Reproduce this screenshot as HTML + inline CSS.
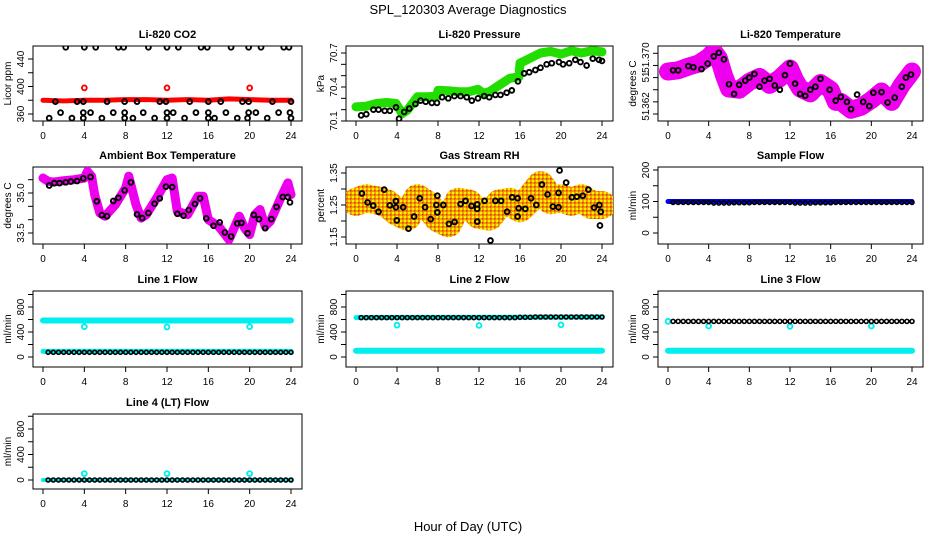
<!DOCTYPE html>
<html><head><meta charset="utf-8">
<style>
html,body{margin:0;padding:0;background:#fff;}
svg{display:block;font-family:"Liberation Sans",sans-serif;}
</style></head>
<body>
<svg id="chart" width="936" height="540" viewBox="0 0 936 540" xmlns="http://www.w3.org/2000/svg">
<defs>
<pattern id="rhpat" width="4" height="4" patternUnits="userSpaceOnUse">
<rect width="4" height="4" fill="#f0a000"/><rect width="2" height="2" fill="#ffee00"/><rect x="2" y="2" width="1.5" height="1.5" fill="#e03000"/>
</pattern>
</defs>
<text x="468" y="14" font-size="13" text-anchor="middle">SPL_120303  Average Diagnostics</text>
<text x="468" y="531" font-size="13" text-anchor="middle">Hour of Day (UTC)</text>
</svg>
<script>
// ---------- data ----------
const xTicks = [0,4,8,12,16,20,24];
const halfHours = [0.5,1,1.5,2,2.5,3,3.5,4,4.5,5,5.5,6,6.5,7,7.5,8,8.5,9,9.5,10,10.5,11,11.5,12,12.5,13,13.5,14,14.5,15,15.5,16,16.5,17,17.5,18,18.5,19,19.5,20,20.5,21,21.5,22,22.5,23,23.5,24];

// CO2
const co2BandHours = [0,2,4,6,8,10,12,14,16,18,20,22,24];
const co2BandVals = [380,379,380,380,381,381,380,381,380,382,381,380,380];
const co2RedHours = [4,12,20];
const co2RedVals = [398,398,398];
const co2BlkHours = [2.2,4.0,5.1,7.3,7.8,10.2,12.0,13.1,15.3,15.9,18.2,19.9,21.1,23.3,23.8,
 1.2,3.3,3.9,6.2,7.9,9.1,11.3,11.9,14.2,16.0,17.2,19.3,19.9,22.2,24.0,
 1.7,3.9,4.6,6.8,7.9,9.7,12.0,12.6,14.8,16.0,17.7,19.9,20.6,22.8,23.9,
 0.6,2.8,3.9,5.7,7.9,8.7,10.8,12.0,13.7,16.0,16.6,18.8,19.8,21.7,24.0];
const co2BlkVals = [457,457,457,457,457,457,457,457,457,457,457,457,457,457,457,
 378,378,378,378,378,378,378,378,378,378,378,378,378,378,378,
 362,362,362,362,362,362,362,362,362,362,362,362,362,362,362,
 354,354,354,354,354,354,354,354,354,354,354,354,354,354,354];

// Pressure
const presHours = [0,1,2,3,3.9,4.5,5,6,7,7.9,8,9,10,11,11.9,12.4,13,14,15,15.9,16,17,18,19,20,21,22,23,24];
const presVals = [70.225,70.23,70.255,70.263,70.255,70.165,70.195,70.314,70.314,70.32,70.37,70.367,70.358,70.358,70.38,70.345,70.358,70.418,70.477,70.49,70.61,70.655,70.70,70.714,70.69,70.72,70.70,70.72,70.71];
const presBlkHours = [0.5,1,1.7,2.2,2.8,3.3,3.9,4.2,4.7,5.2,5.8,6.3,6.8,7.4,7.9,8.4,9,9.6,10.2,10.8,11.3,11.9,12.5,13,13.6,14.1,14.7,15.2,15.8,16.4,16.9,17.5,18,18.6,19.1,19.8,20.2,20.8,21.4,21.9,22.5,23.1,23.7,24];
const presBlkVals = [70.15,70.16,70.2,70.2,70.19,70.19,70.22,70.12,70.18,70.21,70.25,70.28,70.27,70.26,70.26,70.31,70.3,70.32,70.32,70.31,70.28,70.3,70.32,70.31,70.33,70.33,70.35,70.37,70.45,70.52,70.53,70.55,70.57,70.6,70.61,70.62,70.6,70.61,70.64,70.62,70.59,70.65,70.64,70.63];

// Li-820 temperature
const ltHours = [0,1,2,3,4,4.5,5,5.5,6,7,8,9,10,11,12,12.5,13,14,15,16,16.5,17,18,19,20,21,22,23,24];
const ltVals = [51.367,51.3672,51.3678,51.3683,51.3694,51.3703,51.3692,51.3664,51.3642,51.364,51.3653,51.3661,51.3648,51.3659,51.3675,51.3656,51.3642,51.3634,51.3651,51.364,51.362,51.362,51.3607,51.3612,51.3623,51.3637,51.362,51.3648,51.367];
const ltBlkHours = [0.5,1,2,2.5,3.3,3.9,4.5,5,5.5,6,6.5,7,7.6,8,8.5,9,9.5,10,10.5,11,11.5,12,12.5,13,13.5,14,14.5,15,15.9,16.5,17,17.6,18,18.6,19.2,19.8,20.2,21,21.6,22.3,23,23.4,23.9];
const ltBlkVals = [51.3672,51.3672,51.3679,51.3677,51.3674,51.3683,51.3695,51.3701,51.3690,51.3649,51.3633,51.3648,51.3655,51.3660,51.3666,51.3645,51.3655,51.3658,51.3647,51.3640,51.3664,51.3683,51.3650,51.3633,51.3630,51.3640,51.3645,51.3658,51.3640,51.3622,51.3628,51.3620,51.3608,51.3632,51.3620,51.3613,51.3635,51.3636,51.3619,51.3627,51.3645,51.3660,51.3665];

// Ambient box temperature
const abHours = [0,0.5,1,2,3,4,4.3,4.7,5,5.5,6,7,8,8.3,9,9.5,10,11,12,12.5,13,14,15,15.5,16,17,17.5,18,18.5,19,19.5,20,20.5,21,21.5,22,23,23.7,24];
const abVals = [35.56,35.44,35.41,35.46,35.5,35.56,35.81,35.63,34.94,34.25,34.13,34.56,35.19,35.63,34.56,34.06,34.19,34.81,35.5,35.56,34.31,34.19,34.88,34.88,34.0,33.75,33.5,33.25,33.69,34.13,33.69,33.44,34.19,34.38,33.75,33.94,34.81,35.38,34.94];
const abBlkHours = [0.6,1.1,1.6,2.2,2.7,3.3,3.9,4.6,5.2,5.7,6.2,6.8,7.3,7.9,8.5,9.1,9.6,10.2,10.8,11.3,11.9,12.5,13,13.6,14.1,14.7,15.2,15.8,16.5,17.1,17.6,18.2,18.8,19.2,19.8,20.4,20.9,21.5,22.1,22.6,23.2,23.7,23.9];
const abBlkVals = [35.28,35.37,35.37,35.4,35.43,35.45,35.55,35.6,34.69,34.17,34.13,34.7,34.82,35.1,35.4,34.2,34.06,34.25,34.6,34.8,35.24,35.22,34.22,34.15,34.36,34.59,34.8,34.05,33.77,33.9,33.52,33.37,33.86,33.88,33.49,34.18,34.02,33.68,34.02,34.48,34.85,34.85,34.65];

// Gas stream RH
const rhHours = [0,1,2,3,4,5,6,7,8,9,10,11,12,13,14,15,16,17,18,19,20,21,22,23,24];
const rhVals = [1.26,1.271,1.265,1.255,1.229,1.214,1.271,1.25,1.209,1.193,1.26,1.255,1.219,1.214,1.255,1.26,1.24,1.271,1.312,1.265,1.271,1.26,1.271,1.25,1.25];
const rhBlkHours = [0.58,1.13,1.68,2.2,2.75,3.3,3.89,3.89,3.98,4.6,5.12,5.67,6.22,6.74,7.29,7.84,7.94,7.94,8.52,9.07,9.62,10.2,10.69,11.27,11.83,11.83,11.83,12.54,13.12,13.6,14.16,14.74,15.23,15.77,15.77,15.87,16.52,17.07,17.59,18.14,18.69,19.21,19.76,19.86,19.76,20.5,21.06,21.54,22.13,22.67,23.23,23.74,23.8,23.87];
const rhBlkVals = [1.286,1.258,1.248,1.229,1.298,1.249,1.262,1.243,1.202,1.243,1.176,1.214,1.271,1.243,1.206,1.25,1.279,1.227,1.25,1.191,1.197,1.253,1.263,1.247,1.238,1.198,1.252,1.263,1.139,1.263,1.263,1.229,1.274,1.271,1.214,1.24,1.238,1.271,1.25,1.314,1.283,1.245,1.243,1.358,1.288,1.32,1.274,1.276,1.279,1.298,1.242,1.25,1.186,1.229];

// Flows
const bandHours = [0,24];
const dipHours = [4,12,20];
const sampleBand = [100,100];
const sampleBlk = [97,97,97,97,97,97,97,97,95,95,95,95,96,96,96,96,97,97,97,97,97,97,97,97,95,95,95,95,96,96,96,96,97,97,97,97,97,97,97,97,97,97,97,97,97,97,97,97];
const line1Upper = [585,585];
const line1Dips = [485,480,485];
const line1Lower = [90,90];
const line1Blk = [75,75,75,75,75,75,75,75,75,75,75,75,75,75,75,75,75,75,75,75,75,75,75,75,75,75,75,75,75,75,75,75,75,75,75,75,75,75,75,75,75,75,75,75,75,75,75,75];
const line2Lower = [100,100];
const line2Dips = [510,505,515];
const line2Blk = [630,630,630,630,630,630,630,630,630,630,630,630,630,630,630,630,630,630,630,630,630,630,630,630,630,630,630,630,630,630,630,635,635,635,640,640,640,640,640,640,640,640,640,640,640,640,640,640];
const line3Lower = [100,100];
const line3Dips = [495,490,495];
const line3Blk = [570,570,570,570,570,570,570,570,570,570,570,570,570,570,570,570,570,570,570,570,570,570,570,570,570,570,570,570,570,570,570,570,570,570,570,570,570,570,570,570,570,570,570,570,570,570,570,570];
const line4Dips = [100,100,100];
const line4Blk = [0,0,0,0,0,0,0,0,0,0,0,0,0,0,0,0,0,0,0,0,0,0,0,0,0,0,0,0,0,0,0,0,0,0,0,0,0,0,0,0,0,0,0,0,0,0,0,0];

// ---------- drawing ----------
const NS = "http://www.w3.org/2000/svg";
const svg = document.getElementById("chart");
function el(tag, attrs, parent){
  const e = document.createElementNS(NS, tag);
  for (const k in attrs) e.setAttribute(k, attrs[k]);
  (parent||svg).appendChild(e);
  return e;
}
const cols = [[33,302],[346,613],[658,923]];
const rows = [[46,121],[167,244],[291,367],[414,489]];

function makePanel(name, title, col, row, yv0, yp0, yv1, yp1, yTicks, yLabels, ylab){
  const [L,R] = cols[col], [T,B] = rows[row];
  const g = el("g", {});
  
  
  const clip = el("clipPath", {id: name+"-clip"}, g);
  el("rect", {x:L, y:T, width:R-L, height:B-T}, clip);
  const xs = h => (L+10) + h*((R-11)-(L+10))/24;
  const ys = v => yp0 + (v-yv0)*(yp1-yp0)/(yv1-yv0);
  const t = el("text", {x:(L+R)/2, y:T-8, "font-size":11, "font-weight":"bold", "text-anchor":"middle"}, g);
  t.textContent = title;
  
  
  const box = el("rect", {x:L, y:T, width:R-L, height:B-T, fill:"none", stroke:"#000", "stroke-width":1}, g);
  
  
  xTicks.forEach(h => {
    el("line", {x1:xs(h), x2:xs(h), y1:B, y2:B+5, stroke:"#000"}, g);
    const tx = el("text", {x:xs(h), y:B+18, "font-size":10, "text-anchor":"middle"}, g);
    tx.textContent = h;
    
    
  });
  yTicks.forEach(v => el("line", {x1:L-5, x2:L, y1:ys(v), y2:ys(v), stroke:"#000"}, g));
  yLabels.forEach(([v,s]) => {
    const ty = el("text", {x:0, y:0, "font-size":10, "text-anchor":"middle", transform:`translate(${L-9},${ys(v)}) rotate(-90)`}, g);
    ty.textContent = s;
    
    
  });
  const yl = el("text", {x:0, y:0, "font-size":10, "text-anchor":"middle", transform:`translate(${L-22},${(T+B)/2}) rotate(-90)`}, g);
  yl.textContent = ylab;
  
  
  const data = el("g", {"clip-path":`url(#${name}-clip)`}, g);
  
  
  return {xs, ys, g:data};
}
function band(p, hs, vs, color, w){
  const pts = hs.map((h,i)=>p.xs(h)+","+p.ys(vs[i])).join(" ");
  const e = el("polyline", {points:pts, fill:"none", stroke:color, "stroke-width":w, "stroke-linejoin":"round", "stroke-linecap":"round"}, p.g);
  
  
}
function pts(p, hs, vs, color, r, sw){
  hs.forEach((h,i)=>{
    const c = el("circle", {cx:p.xs(h), cy:p.ys(vs[i]), r:r||2.4, fill:"none", stroke:color, "stroke-width":sw||1.9}, p.g);
    
    
  });
}

// CO2
let p = makePanel("co2","Li-820 CO2",0,0,360,114,440,59,[360,380,400,420,440],[[360,"360"],[400,"400"],[440,"440"]],"Licor ppm");
band(p, co2BandHours, co2BandVals, "#ff0000", 5);
pts(p, co2RedHours, co2RedVals, "#ff0000");
pts(p, co2BlkHours, co2BlkVals, "#000");

// Pressure
p = makePanel("pressure","Li-820 Pressure",1,0,70.1,121,70.7,53,[70.1,70.2,70.3,70.4,70.5,70.6,70.7],[[70.1,"70.1"],[70.4,"70.4"],[70.7,"70.7"]],"kPa");
band(p, presHours, presVals, "#22dd00", 9);
pts(p, presBlkHours, presBlkVals, "#000");

// Li-820 temperature
p = makePanel("licor-temp","Li-820 Temperature",2,0,51.360,114,51.370,53.3,[51.360,51.362,51.364,51.366,51.368,51.370],[[51.3693,"51.370"],[51.3661,"51"],[51.362,".362"],[51.3598,"51"]],"degrees C");
band(p, ltHours, ltVals, "#ee00ee", 18);
pts(p, ltBlkHours, ltBlkVals, "#000");

// Ambient
p = makePanel("ambient-temp","Ambient Box Temperature",0,1,35.0,193,33.5,233,[33.5,34,34.5,35,35.5],[[33.5,"33.5"],[35.0,"35.0"]],"degrees C");
band(p, abHours, abVals, "#ee00ee", 9);
pts(p, abBlkHours, abBlkVals, "#000");

// RH
p = makePanel("gas-rh","Gas Stream RH",1,1,1.15,237,1.35,173,[1.15,1.2,1.25,1.3,1.35],[[1.15,"1.15"],[1.25,"1.25"],[1.35,"1.35"]],"percent");
band(p, rhHours, rhVals, "url(#rhpat)", 28);
pts(p, rhBlkHours, rhBlkVals, "#000");

// Sample flow
p = makePanel("sample-flow","Sample Flow",2,1,0,233,200,170,[0,50,100,150,200],[[0,"0"],[100,"100"],[200,"200"]],"ml/min");
band(p, bandHours, sampleBand, "#0000ee", 5);
pts(p, halfHours, sampleBlk, "#000", 2, 1.6);

const flowTicks = [0,200,400,600,800,1000];
const flowLabels = [[0,"0"],[400,"400"],[800,"800"]];
// Line 1
p = makePanel("line1-flow","Line 1 Flow",0,2,0,357,800,307,flowTicks,flowLabels,"ml/min");
band(p, bandHours, line1Upper, "#00eeee", 6);
pts(p, dipHours, line1Dips, "#00eeee");
band(p, bandHours, line1Lower, "#00eeee", 5);
pts(p, halfHours, line1Blk, "#000", 2, 1.6);
// Line 2
p = makePanel("line2-flow","Line 2 Flow",1,2,0,357,800,307,flowTicks,flowLabels,"ml/min");
band(p, [0,24], [line2Blk[0],line2Blk[47]], "#00eeee", 5);
band(p, bandHours, line2Lower, "#00eeee", 6);
pts(p, dipHours, line2Dips, "#00eeee");
pts(p, halfHours, line2Blk, "#000", 2, 1.6);
// Line 3
p = makePanel("line3-flow","Line 3 Flow",2,2,0,357,800,307,flowTicks,flowLabels,"ml/min");
band(p, bandHours, line3Lower, "#00eeee", 6);
pts(p, [0], [line3Blk[0]], "#00eeee");
pts(p, dipHours, line3Dips, "#00eeee");
pts(p, halfHours, line3Blk, "#000", 2, 1.6);
// Line 4
p = makePanel("line4-flow","Line 4 (LT) Flow",0,3,0,480,800,429,flowTicks,flowLabels,"ml/min");
band(p, [0,24], [0,0], "#00eeee", 4);
pts(p, dipHours, line4Dips, "#00eeee");
pts(p, halfHours, line4Blk, "#000", 2, 1.6);
</script>
</body></html>
